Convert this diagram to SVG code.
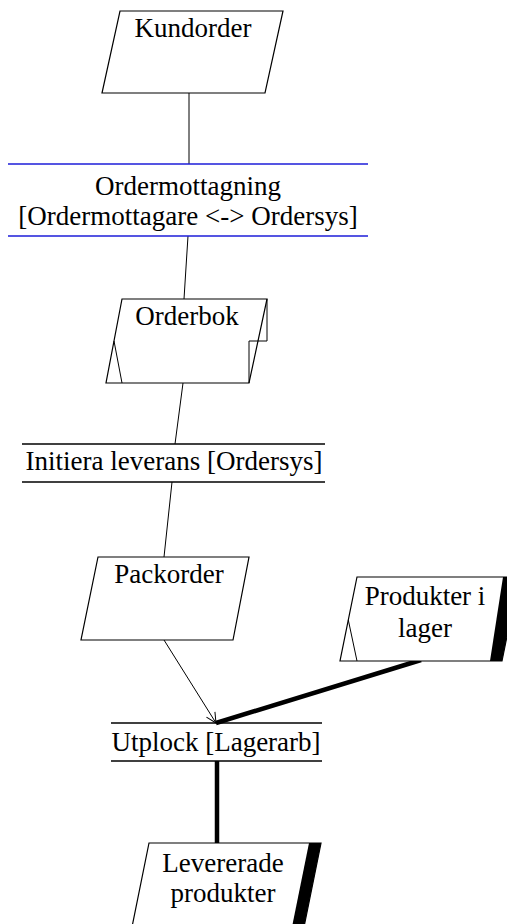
<svg xmlns="http://www.w3.org/2000/svg" width="507" height="924" viewBox="0 0 507 924">
<style>
.shape{fill:#fff;stroke:#000;stroke-width:1.2}
.thin{fill:none;stroke:#000;stroke-width:1}
.bar{stroke:#000;stroke-width:1.3}
.blue{stroke:#1c1cd8;stroke-width:1.3}
.thick{fill:none;stroke:#000;stroke-width:4.5}
.band{fill:#000;stroke:none}
text{font-family:"Liberation Serif","Times New Roman",serif;font-size:27px;fill:#000;text-anchor:middle}
</style>
<defs>
<marker id="open" viewBox="0 0 12 12" refX="11" refY="6" markerWidth="12" markerHeight="12" markerUnits="userSpaceOnUse" orient="auto">
<path d="M1,1 L11,6 L1,11" fill="none" stroke="#000" stroke-width="1"/>
</marker>
</defs>
<g id="connectors">
<line class="thin" x1="189" y1="93" x2="189" y2="164"/>
<line class="thin" x1="188" y1="236" x2="184" y2="299"/>
<line class="thin" x1="183" y1="383" x2="175" y2="444"/>
<line class="thin" x1="172" y1="482" x2="164" y2="557"/>
<line class="thin" x1="164" y1="640" x2="216" y2="723" marker-end="url(#open)"/>
<line class="thick" x1="421" y1="660" x2="216" y2="723"/>
<line class="thick" x1="217" y1="761" x2="217" y2="843"/>
</g>
<g id="kundorder">
<polygon class="shape" points="120,11 283,11 265,93 102,93"/>
<text x="193" y="37">Kundorder</text>
</g>
<g id="ordermottagning">
<line class="blue" x1="8" y1="164" x2="368" y2="164"/>
<line class="blue" x1="8" y1="236" x2="368" y2="236"/>
<text x="188" y="195">Ordermottagning</text>
<text x="188" y="225">[Ordermottagare &lt;-&gt; Ordersys]</text>
</g>
<g id="orderbok">
<polygon class="shape" points="122,299 267,299 249,383 106,383"/>
<polyline class="thin" points="267,299 267,341 249,341 249,383"/>
<polyline class="thin" points="114,341 122,383"/>
<text x="187" y="325">Orderbok</text>
</g>
<g id="initiera">
<line class="bar" x1="22" y1="444" x2="325" y2="444"/>
<line class="bar" x1="22" y1="482" x2="325" y2="482"/>
<text x="174" y="470">Initiera leverans [Ordersys]</text>
</g>
<g id="packorder">
<polygon class="shape" points="98,557 249,557 233,640 81,640"/>
<text x="169" y="583">Packorder</text>
</g>
<g id="produkter">
<polygon class="shape" points="357,577 519,577 502,661 340,661"/>
<polygon class="band" points="503,577 519,577 502,661 490,661"/>
<polyline class="thin" points="348.3,620 357,661"/>
<text x="425" y="605">Produkter i</text>
<text x="425" y="637">lager</text>
</g>
<g id="utplock">
<line class="bar" x1="111" y1="723" x2="322" y2="723"/>
<line class="bar" x1="111" y1="761" x2="322" y2="761"/>
<text x="216" y="751">Utplock [Lagerarb]</text>
</g>
<g id="levererade">
<polygon class="shape" points="149,843 321,843 304,927 132,927"/>
<polygon class="band" points="309,843 321,843 304,927 292,927"/>
<text x="223" y="872">Levererade</text>
<text x="223" y="902">produkter</text>
</g>
</svg>
